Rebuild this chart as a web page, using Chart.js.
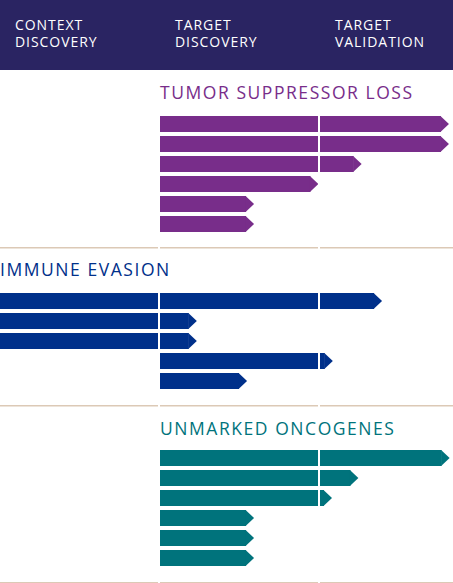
<!DOCTYPE html>
<html>
<head>
<meta charset="utf-8">
<script src="https://cdn.jsdelivr.net/npm/chart.js@4.4.1/dist/chart.umd.min.js"></script>
<style>
  html, body { margin: 0; padding: 0; background: #ffffff; }
  body { width: 453px; height: 583px; position: relative; overflow: hidden; font-family: "Open Sans", sans-serif; }
  #header { position: absolute; left: 0; top: 0; width: 453px; height: 70px; background: #2a2462; }
  .stage { position: absolute; top: 17px; color: #ffffff; font-size: 14px; line-height: 16.5px; font-weight: 500; letter-spacing: 0.95px; }
  .title { position: absolute; font-size: 17.5px; line-height: 18px; font-weight: 500; letter-spacing: 1.55px; white-space: nowrap; }
  canvas { position: absolute; left: 0; }
</style>
</head>
<body>
<div id="header"></div>
<div id="titles"></div>
<canvas id="c0" width="453" height="135" style="top:114px"></canvas>
<canvas id="c1" width="453" height="116" style="top:291px"></canvas>
<canvas id="c2" width="453" height="136" style="top:448px"></canvas>
<script>
// ---- stage (tick) labels: each stage spans 100 units on the x axis ----
const stageLabels = [["CONTEXT", "DISCOVERY"], ["TARGET", "DISCOVERY"], ["TARGET", "VALIDATION"]];
const stageBounds = [100, 200];
const xMax = 283.125;

// ---- group titles ----
const groupTitles = ["TUMOR SUPPRESSOR LOSS", "IMMUNE EVASION", "UNMARKED ONCOGENES"];
const groupColors = ["#782d8a", "#00308a", "#00737c"];

// ---- categories (programs) ----
const tslPrograms = ["TSL-1", "TSL-2", "TSL-3", "TSL-4", "TSL-5", "TSL-6"];
const iePrograms = ["IE-1", "IE-2", "IE-3", "IE-4", "IE-5"];
const uoPrograms = ["UO-1", "UO-2", "UO-3", "UO-4", "UO-5", "UO-6"];

// ---- series values: start and end of progress (stage units) ----
const tslStart = [100, 100, 100, 100, 100, 100];
const tslEnd   = [275.6, 275.6, 221, 194, 153.8, 153.8];
const ieStart  = [0, 0, 0, 100, 100];
const ieEnd    = [233.8, 118, 118, 203, 149.4];
const uoStart  = [100, 100, 100, 100, 100, 100];
const uoEnd    = [276, 219, 202.5, 153.8, 153.8, 153.8];

// header labels
const stageX = [15, 175, 335];
const header = document.getElementById('header');
stageLabels.forEach((lines, i) => {
  const d = document.createElement('div');
  d.className = 'stage';
  d.style.left = stageX[i] + 'px';
  d.innerHTML = lines.join('<br>');
  header.appendChild(d);
});

// group titles
const titlePos = [[160, 83], [0, 260], [160, 419]];
const titles = document.getElementById('titles');
groupTitles.forEach((t, i) => {
  const d = document.createElement('div');
  d.className = 'title';
  d.style.left = titlePos[i][0] + 'px';
  d.style.top = titlePos[i][1] + 'px';
  d.style.color = groupColors[i];
  d.textContent = t;
  titles.appendChild(d);
});

const pipelinePlugin = {
  id: 'pipeline',
  afterDatasetsDraw(chart) {
    const ctx = chart.ctx;
    const xs = chart.scales.x;
    ctx.save();
    // arrow heads
    chart.data.datasets.forEach((ds, di) => {
      const meta = chart.getDatasetMeta(di);
      meta.data.forEach(el => {
        const h = el.height;
        ctx.fillStyle = ds.backgroundColor;
        ctx.beginPath();
        ctx.moveTo(el.x - 0.5, el.y - h / 2);
        ctx.lineTo(el.x + h / 2, el.y);
        ctx.lineTo(el.x - 0.5, el.y + h / 2);
        ctx.closePath();
        ctx.fill();
      });
    });
    // separator line
    const sepY = chart.height - 2;
    ctx.fillStyle = '#dcc9b6';
    ctx.fillRect(0, sepY, chart.width, 1.5);
    // white stage dividers
    ctx.fillStyle = '#ffffff';
    stageBounds.forEach(v => {
      const px = xs.getPixelForValue(v);
      ctx.fillRect(px - 2, 0, 2, chart.height);
    });
    ctx.restore();
  }
};

function makeChart(id, labels, starts, ends, color, padBottom) {
  new Chart(document.getElementById(id), {
    type: 'bar',
    data: {
      labels: labels,
      datasets: [{
        data: starts.map((s, i) => [s, ends[i]]),
        backgroundColor: color,
        borderWidth: 0,
        borderSkipped: false,
        categoryPercentage: 1,
        barPercentage: 0.8
      }]
    },
    options: {
      indexAxis: 'y',
      responsive: false,
      animation: false,
      layout: { padding: { left: 0, right: 0, top: 0, bottom: padBottom } },
      plugins: { legend: { display: false }, tooltip: { enabled: false }, title: { display: false } },
      scales: {
        x: { type: 'linear', min: 0, max: xMax, display: false },
        y: { type: 'category', display: false, offset: true }
      }
    },
    plugins: [pipelinePlugin]
  });
}

makeChart('c0', tslPrograms, tslStart, tslEnd, groupColors[0], 15);
makeChart('c1', iePrograms, ieStart, ieEnd, groupColors[1], 16);
makeChart('c2', uoPrograms, uoStart, uoEnd, groupColors[2], 16);
</script>
</body>
</html>
